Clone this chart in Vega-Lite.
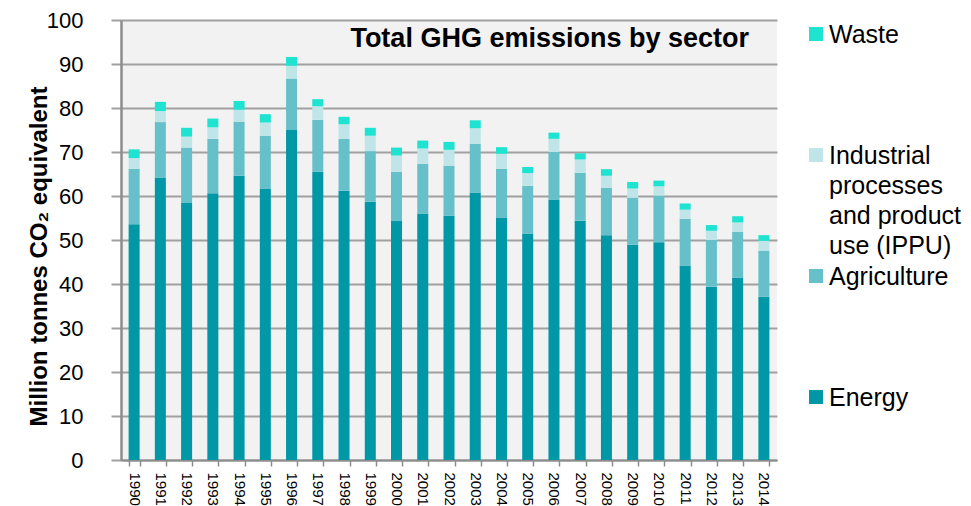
{
  "$schema": "https://vega.github.io/schema/vega-lite/v6.json",
  "autosize": {"type": "pad"},
  "padding": {"left": 27, "top": 9, "right": 0, "bottom": 0},
  "bounds": "flush",
  "spacing": 32,
  "config": {
    "font": "Liberation Sans",
    "view": {"stroke": null}
  },
  "datasets": {
    "ghg": [
      {"year": "1990", "Energy": 53.6, "Agriculture": 12.6, "IPPU": 2.4, "Waste": 2.0},
      {"year": "1991", "Energy": 64.2, "Agriculture": 12.6, "IPPU": 2.5, "Waste": 2.1},
      {"year": "1992", "Energy": 58.4, "Agriculture": 12.6, "IPPU": 2.5, "Waste": 2.0},
      {"year": "1993", "Energy": 60.6, "Agriculture": 12.4, "IPPU": 2.6, "Waste": 2.0},
      {"year": "1994", "Energy": 64.6, "Agriculture": 12.3, "IPPU": 2.7, "Waste": 2.0},
      {"year": "1995", "Energy": 61.6, "Agriculture": 12.1, "IPPU": 3.0, "Waste": 1.9},
      {"year": "1996", "Energy": 75.0, "Agriculture": 11.7, "IPPU": 2.9, "Waste": 2.0},
      {"year": "1997", "Energy": 65.5, "Agriculture": 11.8, "IPPU": 3.1, "Waste": 1.6},
      {"year": "1998", "Energy": 61.2, "Agriculture": 11.8, "IPPU": 3.3, "Waste": 1.7},
      {"year": "1999", "Energy": 58.7, "Agriculture": 11.5, "IPPU": 3.5, "Waste": 1.8},
      {"year": "2000", "Energy": 54.3, "Agriculture": 11.2, "IPPU": 3.7, "Waste": 1.8},
      {"year": "2001", "Energy": 56.0, "Agriculture": 11.3, "IPPU": 3.5, "Waste": 1.8},
      {"year": "2002", "Energy": 55.5, "Agriculture": 11.4, "IPPU": 3.6, "Waste": 1.8},
      {"year": "2003", "Energy": 60.8, "Agriculture": 11.1, "IPPU": 3.5, "Waste": 1.8},
      {"year": "2004", "Energy": 55.1, "Agriculture": 11.1, "IPPU": 3.4, "Waste": 1.5},
      {"year": "2005", "Energy": 51.4, "Agriculture": 10.9, "IPPU": 2.9, "Waste": 1.4},
      {"year": "2006", "Energy": 59.2, "Agriculture": 10.8, "IPPU": 3.0, "Waste": 1.4},
      {"year": "2007", "Energy": 54.4, "Agriculture": 10.9, "IPPU": 3.0, "Waste": 1.4},
      {"year": "2008", "Energy": 51.1, "Agriculture": 10.8, "IPPU": 2.7, "Waste": 1.5},
      {"year": "2009", "Energy": 48.9, "Agriculture": 10.7, "IPPU": 2.1, "Waste": 1.5},
      {"year": "2010", "Energy": 49.5, "Agriculture": 10.6, "IPPU": 2.1, "Waste": 1.3},
      {"year": "2011", "Energy": 44.2, "Agriculture": 10.6, "IPPU": 2.1, "Waste": 1.4},
      {"year": "2012", "Energy": 39.4, "Agriculture": 10.6, "IPPU": 2.1, "Waste": 1.3},
      {"year": "2013", "Energy": 41.4, "Agriculture": 10.5, "IPPU": 2.1, "Waste": 1.4},
      {"year": "2014", "Energy": 37.1, "Agriculture": 10.5, "IPPU": 2.2, "Waste": 1.3}
    ],
    "legend": [
      {"sector": "Waste", "label": "Waste"},
      {"sector": "IPPU", "label": "Industrial\nprocesses\nand product\nuse (IPPU)"},
      {"sector": "Agriculture", "label": "Agriculture"},
      {"sector": "Energy", "label": "Energy"}
    ]
  },
  "hconcat": [
    {
      "width": 656,
      "height": 440,
      "view": {"fill": "#F2F2F2", "stroke": null},
      "title": {
        "text": "Total GHG emissions by sector",
        "orient": "top",
        "anchor": "end",
        "frame": "group",
        "baseline": "alphabetic",
        "offset": 0,
        "dy": 65,
        "dx": -28,
        "font": "Liberation Sans",
        "fontSize": 27,
        "fontWeight": "bold",
        "color": "#000000"
      },
      "data": {"name": "ghg"},
      "transform": [
        {"fold": ["Energy", "Agriculture", "IPPU", "Waste"], "as": ["sector", "value"]},
        {"calculate": "indexof(['Energy','Agriculture','IPPU','Waste'], datum.sector)", "as": "stackOrder"}
      ],
      "mark": {"type": "bar"},
      "encoding": {
        "x": {
          "field": "year",
          "type": "ordinal",
          "scale": {"paddingInner": 0.58, "paddingOuter": 0.29},
          "axis": {
            "title": null,
            "labelAngle": 90,
            "labelFontSize": 15,
            "labelColor": "#000000",
            "labelPadding": 6,
            "tickBand": "extent",
            "tickSize": 6,
            "tickColor": "#8C8C8C",
            "tickWidth": 1.5,
            "domainColor": "#8C8C8C",
            "domainWidth": 2,
            "grid": false
          }
        },
        "y": {
          "field": "value",
          "type": "quantitative",
          "stack": "zero",
          "scale": {"domain": [0, 100], "nice": false},
          "axis": {
            "title": "Million tonnes CO₂ equivalent",
            "titleFontSize": 24,
            "titleFontWeight": "bold",
            "titleColor": "#000000",
            "titlePadding": -5,
            "titleY": 236,
            "values": [0, 10, 20, 30, 40, 50, 60, 70, 80, 90, 100],
            "labelFontSize": 22,
            "labelColor": "#000000",
            "labelPadding": 28,
            "tickSize": 10,
            "tickColor": "#A0A0A0",
            "tickWidth": 2,
            "grid": true,
            "gridColor": "#A0A0A0",
            "gridWidth": 2,
            "domainColor": "#8C8C8C",
            "domainWidth": 2.5
          }
        },
        "color": {
          "field": "sector",
          "type": "nominal",
          "scale": {
            "domain": ["Energy", "Agriculture", "IPPU", "Waste"],
            "range": ["#0097A7", "#66C0CA", "#C0E5E8", "#1DE3D0"]
          },
          "legend": null
        },
        "order": {"field": "stackOrder", "type": "quantitative", "sort": "ascending"}
      }
    },
    {
      "width": 14,
      "height": 391,
      "data": {"name": "legend"},
      "layer": [
        {
          "mark": {"type": "square", "size": 196, "opacity": 1},
          "encoding": {
            "y": {
              "field": "sector",
              "type": "nominal",
              "sort": ["Waste", "IPPU", "Agriculture", "Energy"],
              "scale": {"type": "point", "padding": 0.1157},
              "axis": null
            },
            "color": {
              "field": "sector",
              "type": "nominal",
              "scale": {
                "domain": ["Energy", "Agriculture", "IPPU", "Waste"],
                "range": ["#0097A7", "#66C0CA", "#C0E5E8", "#1DE3D0"]
              },
              "legend": null
            }
          }
        },
        {
          "mark": {
            "type": "text",
            "align": "left",
            "baseline": "top",
            "dx": 13,
            "dy": -11,
            "font": "Liberation Sans",
            "fontSize": 25,
            "lineBreak": "\n",
            "lineHeight": 30,
            "color": "#000000"
          },
          "encoding": {
            "y": {
              "field": "sector",
              "type": "nominal",
              "sort": ["Waste", "IPPU", "Agriculture", "Energy"],
              "scale": {"type": "point", "padding": 0.1157},
              "axis": null
            },
            "text": {"field": "label"}
          }
        }
      ]
    }
  ]
}
